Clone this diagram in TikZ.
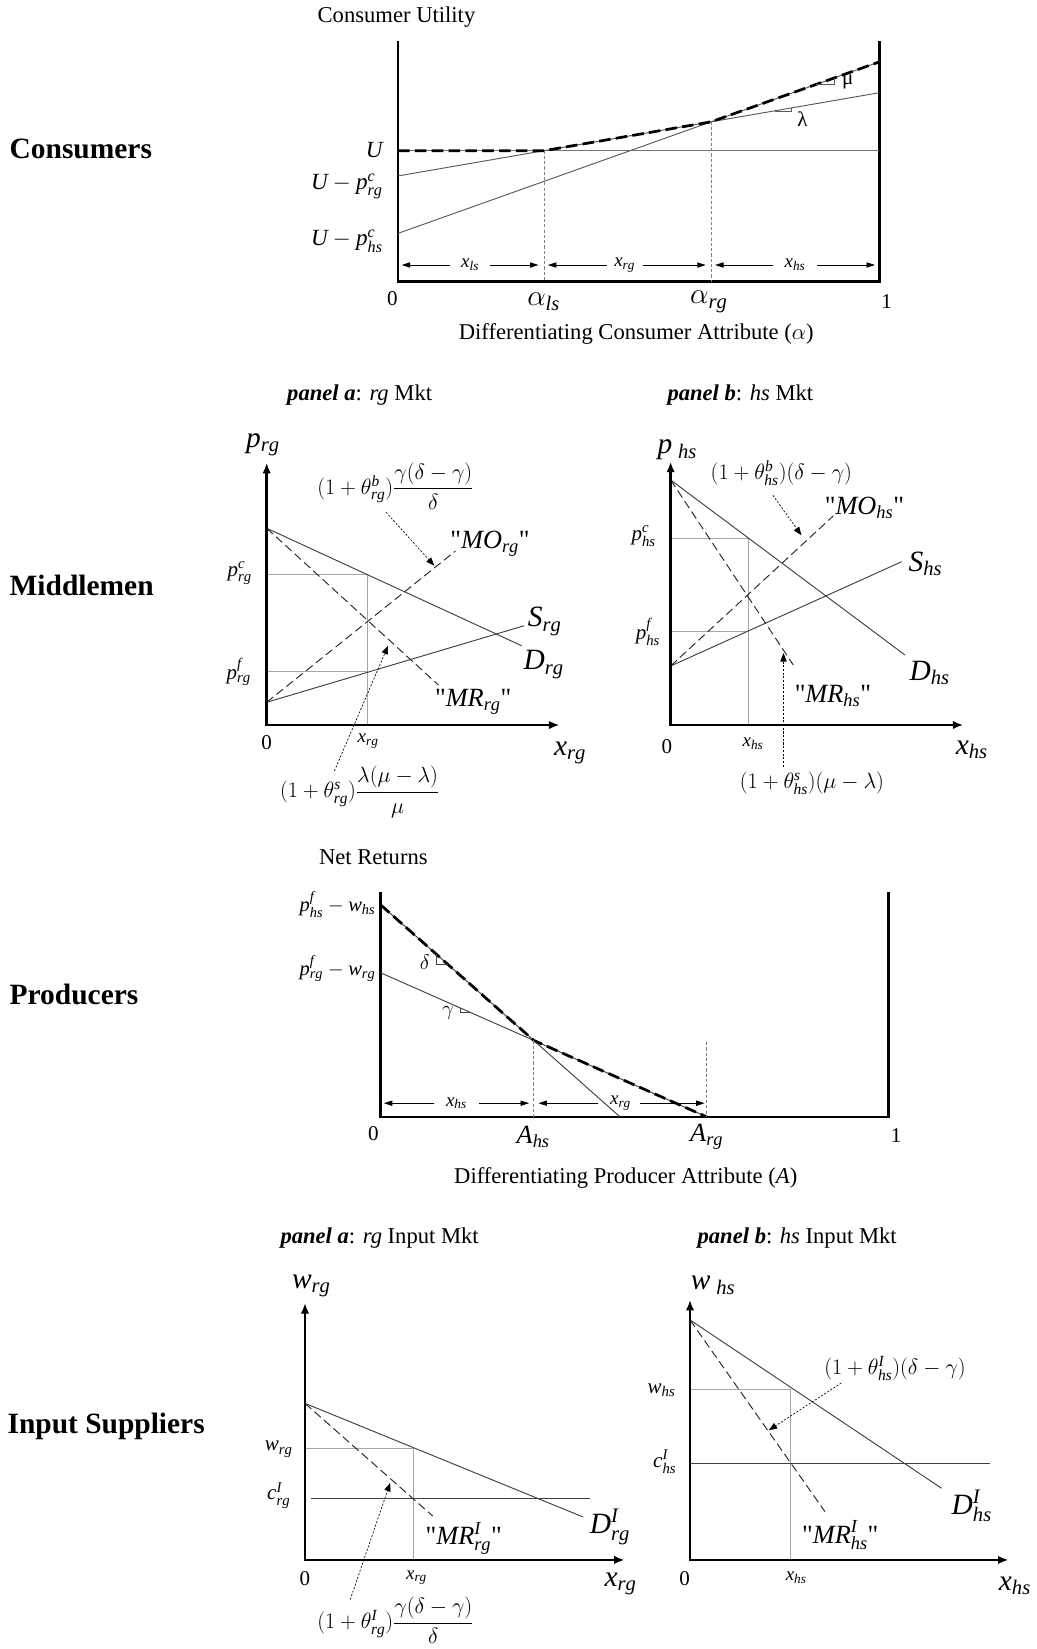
\documentclass[tikz,border=0pt]{standalone}
\usepackage{fix-cm}
\usepackage{amsmath}
\usepackage{fontspec}
\setmainfont{Liberation Serif}[Ligatures=TeXOff]
\usetikzlibrary{arrows.meta}
\newcommand\fs[1]{\fontsize{#1}{#1}\selectfont}
\newcommand\MI[1]{\mathit{#1}}
\newcommand\sq{\symbol{34}}
\tikzset{
  axln/.style={line width=2.6pt, line join=miter},
  axar/.style={line width=2.6pt, line join=miter, {Latex[length=10pt,width=8pt]}-{Latex[length=10pt,width=8pt]}},
  thinln/.style={line width=0.9pt, black!75},
  lightln/.style={line width=0.6pt, black!35},
  envln/.style={line width=2.6pt, dash pattern=on 11pt off 5pt},
  dashln/.style={line width=0.9pt, black!85, dash pattern=on 8pt off 4pt},
  vdash/.style={line width=0.6pt, black!50, dash pattern=on 3pt off 2pt},
  notear/.style={line width=0.6pt, dash pattern=on 2pt off 1.5pt, -{Triangle[length=8pt,width=6pt]}},
  dimar/.style={line width=0.7pt, -{Triangle[length=8pt,width=5pt]}},
  rowlbl/.style={anchor=west, font=\fs{28}\bfseries},
  txt/.style={font=\fs{21.5}},
  big/.style={font=\fs{28}},
  mid/.style={font=\fs{25}},
  tick/.style={font=\fs{20}},
  small/.style={font=\fs{18}},
  frm/.style={font=\fs{21}},
}
\begin{document}
\begin{tikzpicture}[x=1pt,y=-1pt, every node/.style={inner sep=0pt}]
\path[use as bounding box] (0,0) rectangle (986,1568);

% ================= Consumers =================
\node[rowlbl] (rc) at (9,142) {Consumers};
\node[txt] (cutil) at (377,16) {Consumer Utility};
\coordinate (cT) at (378.5,39);
\coordinate (cO) at (378.5,268);
\coordinate (cR) at (836,268);
\coordinate (cRT) at (836,39);
\draw[axln] (cT) -- (cO) -- (cR) -- (cRT);
\coordinate (cU0) at (378.5,143.3);
\coordinate (cU1) at (836,143.3);
\coordinate (crg0) at (378.5,167.3);
\coordinate (crg1) at (836,88.2);
\coordinate (chs0) at (378.5,221.9);
\coordinate (chs1) at (836,58.9);
\coordinate (cals) at (517.3,143.3);
\coordinate (carg) at (676,115.9);
\draw[thinln, black!55] (cU0) -- (cU1);
\draw[thinln, black!65] (crg0) -- (crg1);
\draw[thinln, black!65] (chs0) -- (chs1);
\draw[envln] (cU0) -- (cals) -- (carg) -- (chs1);
\draw[vdash] (cals) -- (cals |- cO);
\draw[vdash] (carg) -- (carg |- cO);
\draw[thinln, black!65] (775.9,80.2) -- (793.3,80.2) -- (793.3,74.1);
\node[font=\fs{20}] (cmu) at (806,78) {μ};
\draw[thinln, black!65] (736.9,106.2) -- (752.8,106.2) -- (752.8,102.6);
\node[font=\fs{20}] (clam) at (763,113) {λ};
\node[font=\fs{22}, anchor=east] (lU) at (364,143) {$\MI{U}$};
\node[font=\fs{22}, anchor=east] (lUrg) at (364,177) {$\MI{U}-\MI{p}^{\MI{c}}_{\MI{rg}}$};
\node[font=\fs{22}, anchor=east] (lUhs) at (364,229) {$\MI{U}-\MI{p}^{\MI{c}}_{\MI{hs}}$};
% dimension arrows
\node[small] (cxls) at (447,252) {$\MI{x}_{\MI{ls}}$};
\coordinate (d1a) at (382,252); \coordinate (d1b) at (428,252);
\coordinate (d1c) at (466,252); \coordinate (d1d) at (512,252);
\draw[dimar] (d1b) -- (d1a); \draw[dimar] (d1c) -- (d1d);
\node[small] (cxrg) at (594,252) {$\MI{x}_{\MI{rg}}$};
\coordinate (d2a) at (521,252); \coordinate (d2b) at (577,252);
\coordinate (d2c) at (611,252); \coordinate (d2d) at (671,252);
\draw[dimar] (d2b) -- (d2a); \draw[dimar] (d2c) -- (d2d);
\node[small] (cxhs) at (756,252) {$\MI{x}_{\MI{hs}}$};
\coordinate (d3a) at (680,252); \coordinate (d3b) at (735,252);
\coordinate (d3c) at (777,252); \coordinate (d3d) at (832,252);
\draw[dimar] (d3b) -- (d3a); \draw[dimar] (d3c) -- (d3d);
\node[tick] (c0) at (373,284) {0};
\node[big] (calsl) at (517,287) {$\alpha_{\MI{ls}}$};
\node[big] (cargl) at (674,287) {$\alpha_{\MI{rg}}$};
\node[tick] (c1) at (843,287) {1};
\node[txt] (cdiff) at (605,318) {Differentiating Consumer Attribute ($\alpha$)};

% ================= Middlemen =================
\node[rowlbl] (rm) at (9,557) {Middlemen};
\node[txt] (mta) at (342,376) {{\bfseries\itshape panel a}: \textit{rg} Mkt};
\node[txt] (mtb) at (704,376) {{\bfseries\itshape panel b}: \textit{hs} Mkt};
% panel a
\coordinate (aO) at (253.6,689.4);
\coordinate (aY) at (253.6,440);
\coordinate (aX) at (532,689.4);
\coordinate (aD0) at (253.6,502.3);
\coordinate (aD1) at (496,614);
\coordinate (aS0) at (253.6,667.8);
\coordinate (aS1) at (498.3,595);
\coordinate (aMO) at (433,524);
\coordinate (aMR) at (416.8,651.3);
\coordinate (aPc) at (253.6,546);
\coordinate (aPf) at (253.6,638.7);
\coordinate (aQ) at (349.6,546);
\draw[lightln] (aPc) -- (aQ) -- (aQ |- aO);
\draw[lightln] (aPf) -- (aPf -| aQ);
\draw[thinln] (aD0) -- (aD1);
\draw[thinln] (aS0) -- (aS1);
\draw[dashln] (aS0) -- (aMO);
\draw[dashln] (aD0) -- (aMR);
\draw[axar] (aY) -- (aO) -- (aX);
\node[big] (apl) at (250,423) {$\MI{p}_{\MI{rg}}$};
\node[big] (asl) at (518,591) {$\MI{S}_{\MI{rg}}$};
\node[big] (adl) at (517,632) {$\MI{D}_{\MI{rg}}$};
\node[mid] (amol) at (466,517) {\sq$\MI{MO}_{\MI{rg}}$\sq};
\node[mid] (amrl) at (450,667) {\sq$\MI{MR}_{\MI{rg}}$\sq};
\node[tick] (apcl) at (228,545) {$\MI{p}^{\MI{c}}_{\MI{rg}}$};
\node[tick] (apfl) at (227,639) {$\MI{p}^{\MI{f}}_{\MI{rg}}$};
\node[tick] (a0) at (253.6,706) {0};
\node[small] (axs) at (350,705) {$\MI{x}_{\MI{rg}}$};
\node[big] (axl) at (542,716) {$\MI{x}_{\MI{rg}}$};
\node[frm] (atb) at (376,462) {$(1+\theta^{\MI{b}}_{\MI{rg}})\dfrac{\gamma(\delta-\gamma)}{\delta}$};
\coordinate (atb0) at (367,487); \coordinate (atb1) at (413,538);
\draw[notear] (atb0) -- (atb1);
\node[frm] (ats) at (342,753) {$(1+\theta^{\MI{s}}_{\MI{rg}})\dfrac{\lambda(\mu-\lambda)}{\mu}$};
\coordinate (ats0) at (318,733); \coordinate (ats1) at (369,614);
\draw[notear] (ats0) -- (ats1);
% panel b
\coordinate (bO) at (637.7,689.4);
\coordinate (bY) at (637.7,439);
\coordinate (bX) at (916,689.4);
\coordinate (bD0) at (637.7,456.4);
\coordinate (bD1) at (860.5,622.8);
\coordinate (bS0) at (637.7,633.3);
\coordinate (bS1) at (857.4,534.1);
\coordinate (bMO) at (792.3,490.6);
\coordinate (bMR) at (754.3,632.3);
\coordinate (bPc) at (637.7,511.9);
\coordinate (bPf) at (637.7,600.6);
\coordinate (bQ) at (711.5,511.9);
\draw[lightln] (bPc) -- (bQ) -- (bQ |- bO);
\draw[lightln] (bPf) -- (bPf -| bQ);
\draw[thinln] (bD0) -- (bD1);
\draw[thinln] (bS0) -- (bS1);
\draw[dashln] (bS0) -- (bMO);
\draw[dashln] (bD0) -- (bMR);
\draw[axar] (bY) -- (bO) -- (bX);
\node[big] (bpl) at (644,428) {$\MI{p}_{\;\MI{hs}}$};
\node[big] (bsl) at (880,536) {$\MI{S}_{\MI{hs}}$};
\node[big] (bdl) at (884,640) {$\MI{D}_{\MI{hs}}$};
\node[mid] (bmol) at (822,483) {\sq$\MI{MO}_{\MI{hs}}$\sq};
\node[mid] (bmrl) at (792,662) {\sq$\MI{MR}_{\MI{hs}}$\sq};
\node[tick] (bpcl) at (612,510) {$\MI{p}^{\MI{c}}_{\MI{hs}}$};
\node[tick] (bpfl) at (616,601) {$\MI{p}^{\MI{f}}_{\MI{hs}}$};
\node[tick] (b0) at (634,710) {0};
\node[small] (bxs) at (716,707) {$\MI{x}_{\MI{hs}}$};
\node[big] (bxl) at (924,713) {$\MI{x}_{\MI{hs}}$};
\node[frm] (btb) at (743,450) {$(1+\theta^{\MI{b}}_{\MI{hs}})(\delta-\gamma)$};
\coordinate (btb0) at (735,471); \coordinate (btb1) at (762,509);
\draw[notear] (btb0) -- (btb1);
\node[frm] (bts) at (772,745) {$(1+\theta^{\MI{s}}_{\MI{hs}})(\mu-\lambda)$};
\coordinate (bts0) at (745,729); \coordinate (bts1) at (745,621);
\draw[notear] (bts0) -- (bts1);

% ================= Producers =================
\node[rowlbl] (rp) at (9,946) {Producers};
\node[txt] (pnet) at (355,815) {Net Returns};
\coordinate (pT) at (362,848);
\coordinate (pO) at (362,1062);
\coordinate (pR) at (845,1062);
\coordinate (pRT) at (845,848);
\draw[axln] (pT) -- (pO) -- (pR) -- (pRT);
\coordinate (phs0) at (362,860.5);
\coordinate (phs1) at (589.6,1062);
\coordinate (prg0) at (362,925);
\coordinate (prg1) at (672,1062);
\coordinate (pAhs) at (507.5,989.3);
\coordinate (pArgT) at (672,991);
\draw[thinln] (phs0) -- (phs1);
\draw[thinln] (prg0) -- (prg1);
\draw[envln] (phs0) -- (pAhs) -- (prg1);
\draw[vdash] (pAhs) -- (pAhs |- pO);
\draw[vdash] (pArgT) -- (prg1);
\draw[thinln] (414.6,907.1) -- (414.6,916.9) -- (425.7,916.9);
\node[font=\fs{20}] (pdel) at (404,915) {$\delta$};
\draw[thinln] (438,958.6) -- (438,963) -- (448,963);
\node[font=\fs{20}] (pgam) at (426,963) {$\gamma$};
\node[font=\fs{19.5}, anchor=east] (plhs) at (357,860) {$\MI{p}^{\MI{f}}_{\MI{hs}}-\MI{w}_{\MI{hs}}$};
\node[font=\fs{19.5}, anchor=east] (plrg) at (357,921) {$\MI{p}^{\MI{f}}_{\MI{rg}}-\MI{w}_{\MI{rg}}$};
\node[small] (pxhs) at (434,1049) {$\MI{x}_{\MI{hs}}$};
\coordinate (e1a) at (365,1049); \coordinate (e1b) at (413,1049);
\coordinate (e1c) at (455,1049); \coordinate (e1d) at (503,1049);
\draw[dimar] (e1b) -- (e1a); \draw[dimar] (e1c) -- (e1d);
\node[small] (pxrg) at (590,1049) {$\MI{x}_{\MI{rg}}$};
\coordinate (e2a) at (512,1049); \coordinate (e2b) at (569,1049);
\coordinate (e2c) at (609,1049); \coordinate (e2d) at (670,1049);
\draw[dimar] (e2b) -- (e2a); \draw[dimar] (e2c) -- (e2d);
\node[tick] (p0) at (355,1078) {0};
\node[font=\fs{25}] (pAhsl) at (507,1081) {$\MI{A}_{\MI{hs}}$};
\node[font=\fs{25}] (pArgl) at (672,1081) {$\MI{A}_{\MI{rg}}$};
\node[tick] (p1) at (852,1080) {1};
\node[txt] (pdiff) at (595,1120) {Differentiating Producer Attribute (\textit{A})};

% ================= Input Suppliers =================
\node[rowlbl] (ri) at (7,1356) {Input Suppliers};
\node[txt] (ita) at (361,1177) {{\bfseries\itshape panel a}: \textit{rg} Input Mkt};
\node[txt] (itb) at (758,1177) {{\bfseries\itshape panel b}: \textit{hs} Input Mkt};
% panel a
\coordinate (iaO) at (290,1483.3);
\coordinate (iaY) at (290,1239);
\coordinate (iaX) at (594,1483.3);
\coordinate (iaD0) at (290,1334.4);
\coordinate (iaD1) at (554.6,1442.5);
\coordinate (iaMR) at (411.4,1441.5);
\coordinate (iaC0) at (296,1425.3);
\coordinate (iaC1) at (561,1425.3);
\coordinate (iaW) at (290,1377);
\coordinate (iaQ) at (393,1377);
\draw[lightln] (iaW) -- (iaQ) -- (iaQ |- iaO);
\draw[thinln] (iaC0) -- (iaC1);
\draw[thinln] (iaD0) -- (iaD1);
\draw[dashln] (iaD0) -- (iaMR);
\draw[axar] (iaY) -- (iaO) -- (iaX);
\node[big] (iawl) at (296,1223) {$\MI{w}_{\MI{rg}}$};
\node[tick] (iawt) at (265,1378) {$\MI{w}_{\MI{rg}}$};
\node[tick] (iact) at (265,1422) {$\MI{c}^{\MI{I}}_{\MI{rg}}$};
\node[tick] (ia0) at (290,1501) {0};
\node[small] (iaxs) at (396,1500) {$\MI{x}_{\MI{rg}}$};
\node[big] (iaxl) at (590,1506) {$\MI{x}_{\MI{rg}}$};
\node[big] (iadl) at (580,1452) {$\MI{D}^{\MI{I}}_{\MI{rg}}$};
\node[mid] (iamrl) at (441,1463) {\sq$\MI{MR}^{\MI{I}}_{\MI{rg}}$\sq};
\node[frm] (iaf) at (376,1541) {$(1+\theta^{\MI{I}}_{\MI{rg}})\dfrac{\gamma(\delta-\gamma)}{\delta}$};
\coordinate (iaf0) at (333,1521); \coordinate (iaf1) at (371,1410);
\draw[notear] (iaf0) -- (iaf1);
% panel b
\coordinate (ibO) at (656.1,1483.3);
\coordinate (ibY) at (656.1,1236);
\coordinate (ibX) at (959,1483.3);
\coordinate (ibD0) at (656.1,1255.1);
\coordinate (ibD1) at (895.4,1415.2);
\coordinate (ibMR) at (784.4,1437.3);
\coordinate (ibC0) at (656.1,1392);
\coordinate (ibC1) at (941.3,1392);
\coordinate (ibW) at (656.1,1320.7);
\coordinate (ibQ) at (751.2,1320.7);
\draw[lightln] (ibW) -- (ibQ) -- (ibQ |- ibO);
\draw[thinln] (ibC0) -- (ibC1);
\draw[thinln] (ibD0) -- (ibD1);
\draw[dashln] (ibD0) -- (ibMR);
\draw[axar] (ibY) -- (ibO) -- (ibX);
\node[big] (ibwl) at (678,1222) {$\MI{w}_{\;\MI{hs}}$};
\node[tick] (ibwt) at (629,1322) {$\MI{w}_{\MI{hs}}$};
\node[tick] (ibct) at (632,1390) {$\MI{c}^{\MI{I}}_{\MI{hs}}$};
\node[tick] (ib0) at (651,1501) {0};
\node[small] (ibxs) at (757,1500) {$\MI{x}_{\MI{hs}}$};
\node[big] (ibxl) at (965,1508) {$\MI{x}_{\MI{hs}}$};
\node[big] (ibdl) at (924,1432) {$\MI{D}^{\MI{I}}_{\MI{hs}}$};
\node[mid] (ibmrl) at (799,1460) {\sq$\MI{MR}^{\MI{I}}_{\MI{hs}}$\sq};
\node[frm] (ibf) at (851,1301) {$(1+\theta^{\MI{I}}_{\MI{hs}})(\delta-\gamma)$};
\coordinate (ibf0) at (800,1315); \coordinate (ibf1) at (731,1360);
\draw[notear] (ibf0) -- (ibf1);
\end{tikzpicture}
\end{document}
